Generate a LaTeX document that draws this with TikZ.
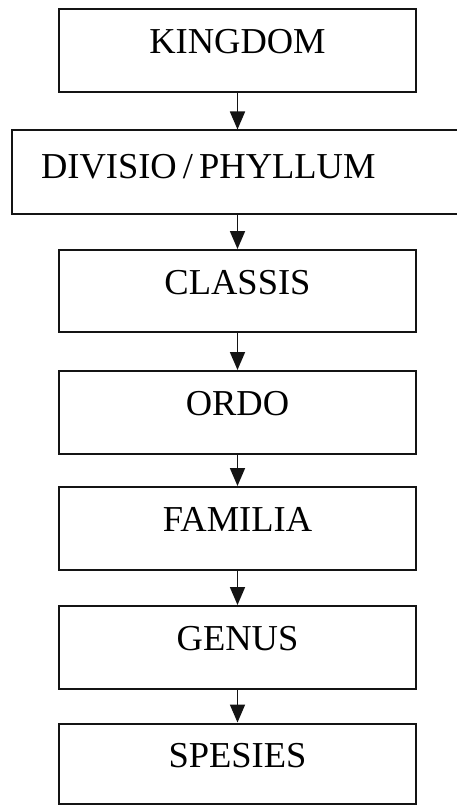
\documentclass[tikz,border=0pt]{standalone}
\usepackage{fontspec}
\setmainfont{Liberation Serif}
\usetikzlibrary{arrows.meta}
\begin{document}
\begin{tikzpicture}[x=1pt,y=-1pt,
  box/.style={draw=black!92, line width=2pt, rectangle, inner sep=0pt,
    minimum width=357pt, minimum height=83pt,
    font=\fontsize{36.5}{40}\selectfont, text height=24.2pt, text depth=18pt},
  arr/.style={-{Triangle[length=18pt,width=15pt]}, line width=1.8pt, draw=black!92, fill=black!92}]
\useasboundingbox (0,0) rectangle (457,805);
\clip (0,0) rectangle (457,805);
\fill[white] (0,0) rectangle (457,805);
\node[box] (kingdom) at (237.5,50.5) {KINGDOM};
\node[box, anchor=west, minimum width=460pt, inner xsep=29pt, text width=402pt,
  align=left, text depth=12pt] (divisio) at (11,172) {DIVISIO\,/\,PHYLLUM};
\node[box, minimum height=82pt] (classis) at (237.5,291) {CLASSIS};
\node[box] (ordo) at (237.5,412.5) {ORDO};
\node[box] (familia) at (237.5,528.5) {FAMILIA};
\node[box] (genus) at (237.5,647.5) {GENUS};
\node[box, minimum height=80pt, text depth=16pt] (spesies) at (237.5,763.5) {SPESIES};
\draw[arr] (kingdom.south) -- (kingdom.south |- divisio.north);
\draw[arr] (kingdom.south |- divisio.south) -- (classis.north);
\draw[arr] (classis.south) -- (ordo.north);
\draw[arr] (ordo.south) -- (familia.north);
\draw[arr] (familia.south) -- (genus.north);
\draw[arr] (genus.south) -- (spesies.north);
\end{tikzpicture}
\end{document}
